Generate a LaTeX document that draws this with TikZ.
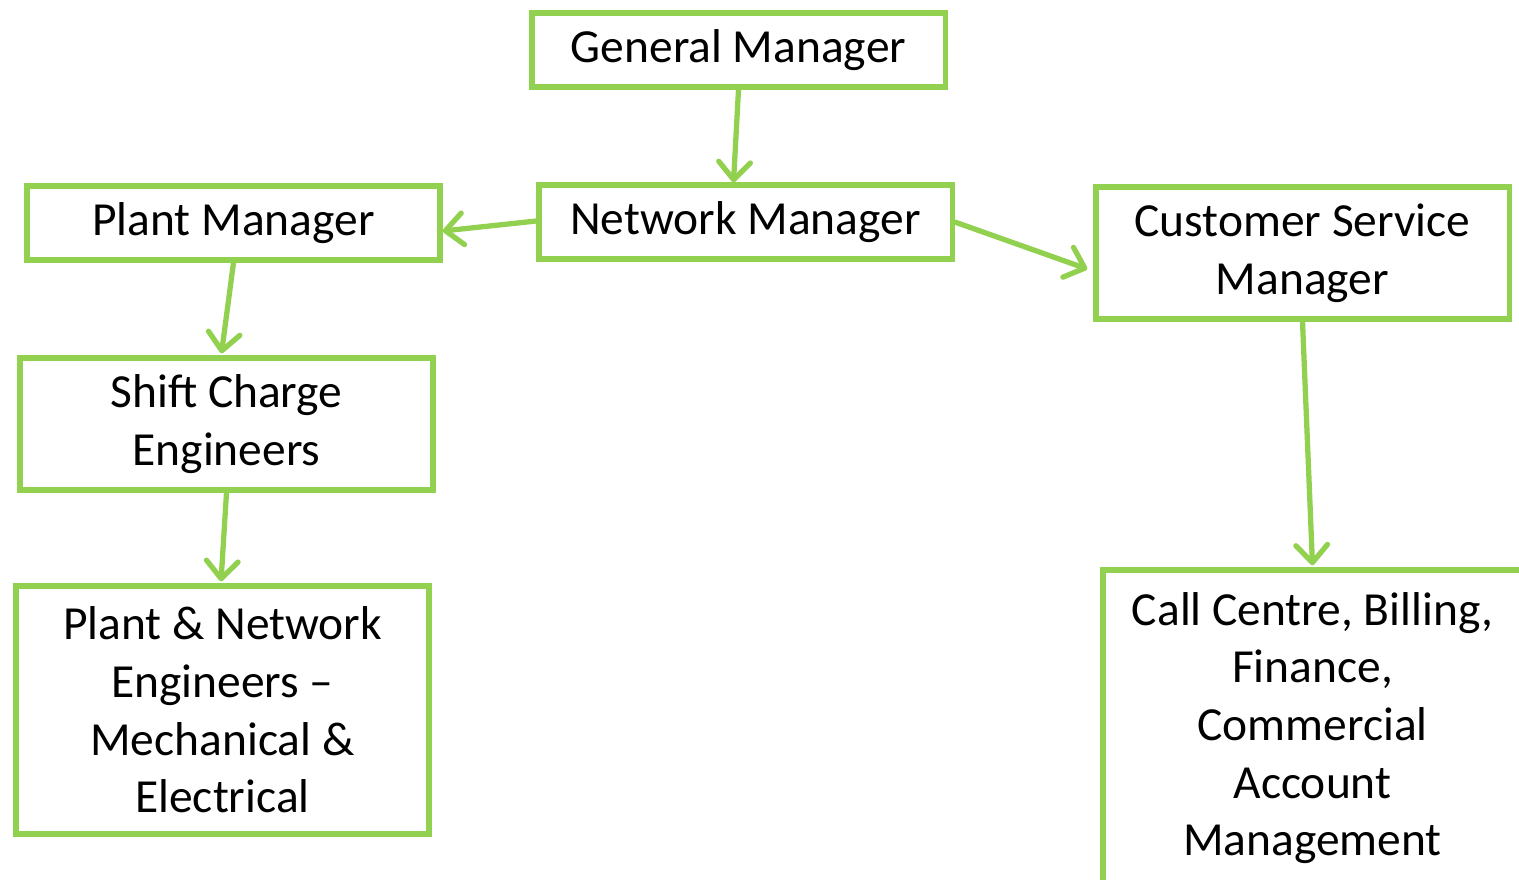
\documentclass[tikz,border=0pt]{standalone}
\usepackage{fontspec}
\setmainfont{Carlito}
\usetikzlibrary{arrows.meta}
\definecolor{leafgreen}{HTML}{92D050}
\tikzset{
  orgbox/.style={draw=leafgreen, line width=1.5pt, inner sep=0pt, align=center,
    minimum width=4.13cm, font=\fontsize{13.5}{16.4}\selectfont},
  link/.style={draw=leafgreen, line width=1.5pt, line cap=round,
    -{Straight Barb[length=5pt,width=9pt,line cap=round,line join=round]}}
}
\begin{document}
\begin{tikzpicture}[x=0.01cm,y=-0.01cm]
    \useasboundingbox (0,0) rectangle (1519,879);
    \begin{scope}
    \clip (0,0) rectangle (1519,879);
    \node[orgbox, minimum height=0.74cm] (gm) at (738.5,50) {General Manager};
    \node[orgbox, minimum height=0.74cm] (nm) at (745.5,222) {Network Manager};
    \node[orgbox, minimum height=0.74cm] (pm) at (233.5,223) {Plant Manager};
    \node[orgbox, minimum height=1.32cm] (csm) at (1302.5,253) {Customer Service\\Manager};
    \node[orgbox, minimum height=1.32cm] (sce) at (226.5,424) {Shift Charge\\Engineers};
    \node[orgbox, minimum height=2.48cm] (pne) at (222.5,710) {Plant \& Network\\Engineers --\\Mechanical \&\\Electrical};
    \node[orgbox, minimum width=4.19cm, minimum height=3.16cm] (cc) at (1312.5,728) {Call Centre, Billing,\\Finance,\\Commercial\\Account\\Management};
    \end{scope}
    \draw[link] (gm.south) -- ([xshift=-0.12cm]nm.north);
    \draw[link] ([yshift=0.01cm]nm.west) -- ([yshift=-0.08cm]pm.east);
    \draw[link] (nm.east) -- ([xshift=-0.06cm,yshift=-0.16cm]csm.west);
    \draw[link] (pm.south) -- ([xshift=-0.05cm,yshift=0.02cm]sce.north);
    \draw[link] (sce.south) -- ([xshift=-0.015cm,yshift=0.02cm]pne.north);
    \draw[link] (csm.south) -- ([yshift=0.02cm]cc.north);
\end{tikzpicture}
\end{document}
